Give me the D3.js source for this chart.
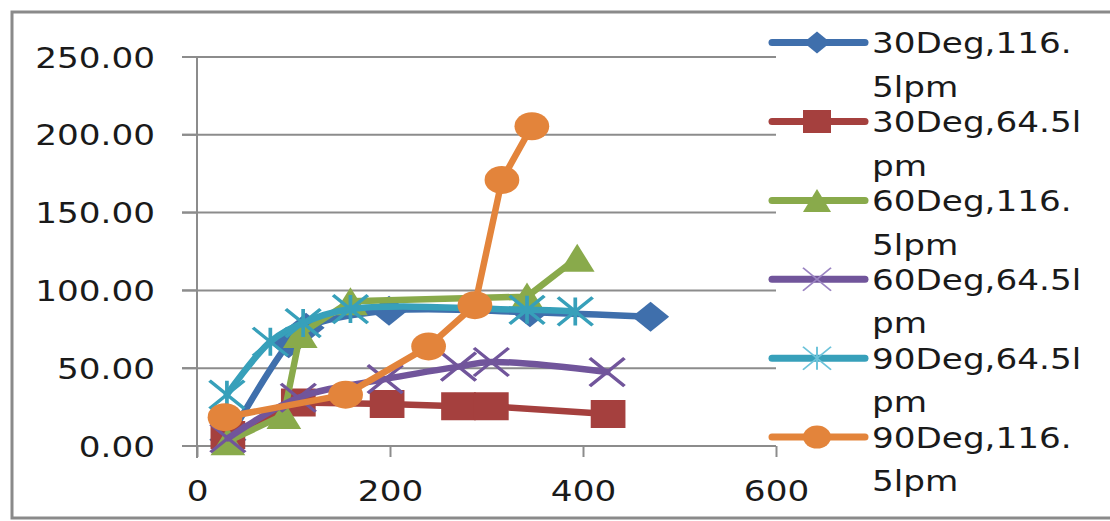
<!DOCTYPE html>
<html><head><meta charset="utf-8">
<script src="https://cdn.jsdelivr.net/npm/d3@7"></script>
<style>body{margin:0;background:#fff}svg{display:block}</style>
</head><body><svg id="c" width="1110" height="521"></svg>
<script>
const xTicks = [0, 200, 400, 600];
const yTicks = [0, 50, 100, 150, 200, 250];
const seriesNames = ["30Deg,116.5lpm", "30Deg,64.5lpm", "60Deg,116.5lpm", "60Deg,64.5lpm", "90Deg,64.5lpm", "90Deg,116.5lpm"];
const legendLines = [["30Deg,116.", "5lpm"], ["30Deg,64.5l", "pm"], ["60Deg,116.", "5lpm"], ["60Deg,64.5l", "pm"], ["90Deg,64.5l", "pm"], ["90Deg,116.", "5lpm"]];
const s30_116 = [[32, 4], [95, 66], [113, 76], [199, 87], [345, 86], [470, 83]];
const s30_64 = [[32, 7], [105, 28], [197, 27], [271, 25.5], [305, 25.5], [426, 20.5]];
const s60_116 = [[32, 3], [90, 20], [107, 72], [159, 93], [342, 96], [394, 121]];
const s60_64 = [[32, 5], [105, 31], [195, 43], [271, 51], [305, 54], [425, 47.5]];
const s90_64 = [[31, 33], [76, 67], [110, 79], [159, 88], [342, 87.5], [392, 86.5]];
const s90_116 = [[29, 18.5], [154, 33], [240, 64], [288, 90.5], [316, 171], [347, 205.5]];
const seriesData = [s30_116, s30_64, s60_116, s60_64, s90_64, s90_116];
const colors = ["#3F6FAC", "#A5403E", "#89AA4B", "#71559B", "#37A0BA", "#E3843B"];
const legendMarkerColors = ["#3F6FAC", "#A5403E", "#89AA4B", "#9B84C2", "#6CC3DA", "#E3843B"];
const markers = ["diamond", "square", "triangle", "x", "star", "circle"];
const smooth = [true, false, false, true, true, false];

const svg = d3.select("#c");
const x = d3.scaleLinear().domain([0, 600]).range([197, 776]);
const y = d3.scaleLinear().domain([0, 250]).range([446, 57]);
const SX = 1.18;
const textColor = "#1a1a1a";
const gridColor = "#8c8c8c";
const FONT = "DejaVu Sans, Verdana, sans-serif";

// outer border
svg.append("rect").attr("x", 12).attr("y", 12).attr("width", 1110).attr("height", 506)
  .attr("fill", "#fff").attr("stroke", "#8a8a8a").attr("stroke-width", 3);

// gridlines
svg.append("g").selectAll("line").data(yTicks).join("line")
  .attr("x1", 182).attr("x2", x(600)).attr("y1", d => y(d)).attr("y2", d => y(d))
  .attr("stroke", gridColor).attr("stroke-width", 2);

// y axis
const yAx = svg.append("g").attr("transform", `translate(${x(0)},0)`)
  .call(d3.axisLeft(y).tickValues(yTicks).tickSize(15).tickSizeOuter(0).tickFormat(d3.format(".2f")));
yAx.select(".domain").remove();
yAx.selectAll("line").attr("stroke", gridColor).attr("stroke-width", 2);
yAx.selectAll("text").attr("x", 0).attr("dy", null)
  .attr("transform", d => `translate(-42,${y(d) + 10.5}) scale(${SX},1)`)
  .attr("y", 0)
  .style("font-family", FONT).style("font-size", "29px").attr("fill", textColor);
yAx.selectAll(".tick").attr("transform", null);
yAx.selectAll(".tick line").attr("y1", d => y(d)).attr("y2", d => y(d));
svg.append("line").attr("x1", x(0)).attr("x2", x(0)).attr("y1", y(250)).attr("y2", 458)
  .attr("stroke", gridColor).attr("stroke-width", 2);

// x axis
const xAx = svg.append("g").attr("transform", `translate(0,${y(0)})`)
  .call(d3.axisBottom(x).tickValues(xTicks).tickSize(11).tickSizeOuter(0).tickFormat(d3.format("d")));
xAx.select(".domain").remove();
xAx.selectAll("line").attr("stroke", gridColor).attr("stroke-width", 2);
xAx.selectAll("text").attr("y", 0).attr("dy", null)
  .attr("transform", `translate(0,55) scale(${SX},1)`)
  .style("font-family", FONT).style("font-size", "29px").attr("fill", textColor);

function markerPath(type, h) {
  switch (type) {
    case "diamond": return `M0,${-h}L${h},0L0,${h}L${-h},0Z`;
    case "square": return `M${-h},${-h}H${h}V${h}H${-h}Z`;
    case "triangle": return `M0,${-h}L${h},${h}L${-h},${h}Z`;
    case "x": return `M${-h},${-h}L${h},${h}M${-h},${h}L${h},${-h}`;
    case "star": return `M${-h},${-h}L${h},${h}M${-h},${h}L${h},${-h}M0,${-h}V${h}`;
    case "circle": return `M${-h},0A${h},${h} 0 1,0 ${h},0A${h},${h} 0 1,0 ${-h},0Z`;
  }
}
function styleMarker(sel, type, color, sw) {
  if (type === "x" || type === "star") sel.attr("fill", "none").attr("stroke", color).attr("stroke-width", sw);
  else sel.attr("fill", color).attr("stroke", "none");
}

const plot = svg.append("g");
seriesData.forEach((data, i) => {
  const line = d3.line().x(d => x(d[0])).y(d => y(d[1]))
    .curve(smooth[i] ? d3.curveCatmullRom.alpha(0.5) : d3.curveLinear);
  const g = plot.append("g");
  g.append("path").datum(data).attr("d", line).attr("fill", "none")
    .attr("stroke", colors[i]).attr("stroke-width", 6.5)
    .attr("stroke-linejoin", "round").attr("stroke-linecap", "round");
  const hh = markers[i] === "diamond" ? 15 : 14;
  const m = g.selectAll(".m").data(data).join("path")
    .attr("d", markerPath(markers[i], hh))
    .attr("transform", d => `translate(${x(d[0])},${y(d[1])}) scale(1.24,1)`);
  styleMarker(m, markers[i], colors[i], 3);
});

// legend
const lg = svg.append("g");
const base0 = 53.3, step = 78.9, lineH = 43.4;
seriesNames.forEach((name, i) => {
  const by = base0 + i * step;
  const cy = by - 10.7;
  const g = lg.append("g").attr("class", "legend-item").attr("data-name", name);
  g.append("line").attr("x1", 772).attr("x2", 865).attr("y1", cy).attr("y2", cy)
    .attr("stroke", colors[i]).attr("stroke-width", 7).attr("stroke-linecap", "round");
  const mk = g.append("path").attr("d", markerPath(markers[i], markers[i] === "diamond" ? 11 : 11.5))
    .attr("transform", `translate(817,${cy}) scale(1.22,1)`);
  styleMarker(mk, markers[i], legendMarkerColors[i], 1.6);
  legendLines[i].forEach((t, j) => {
    g.append("text").text(t)
      .attr("transform", `translate(872,${by + j * lineH}) scale(${SX},1)`)
      .style("font-family", FONT).style("font-size", "29px").attr("fill", textColor);
  });
});
</script></body></html>
